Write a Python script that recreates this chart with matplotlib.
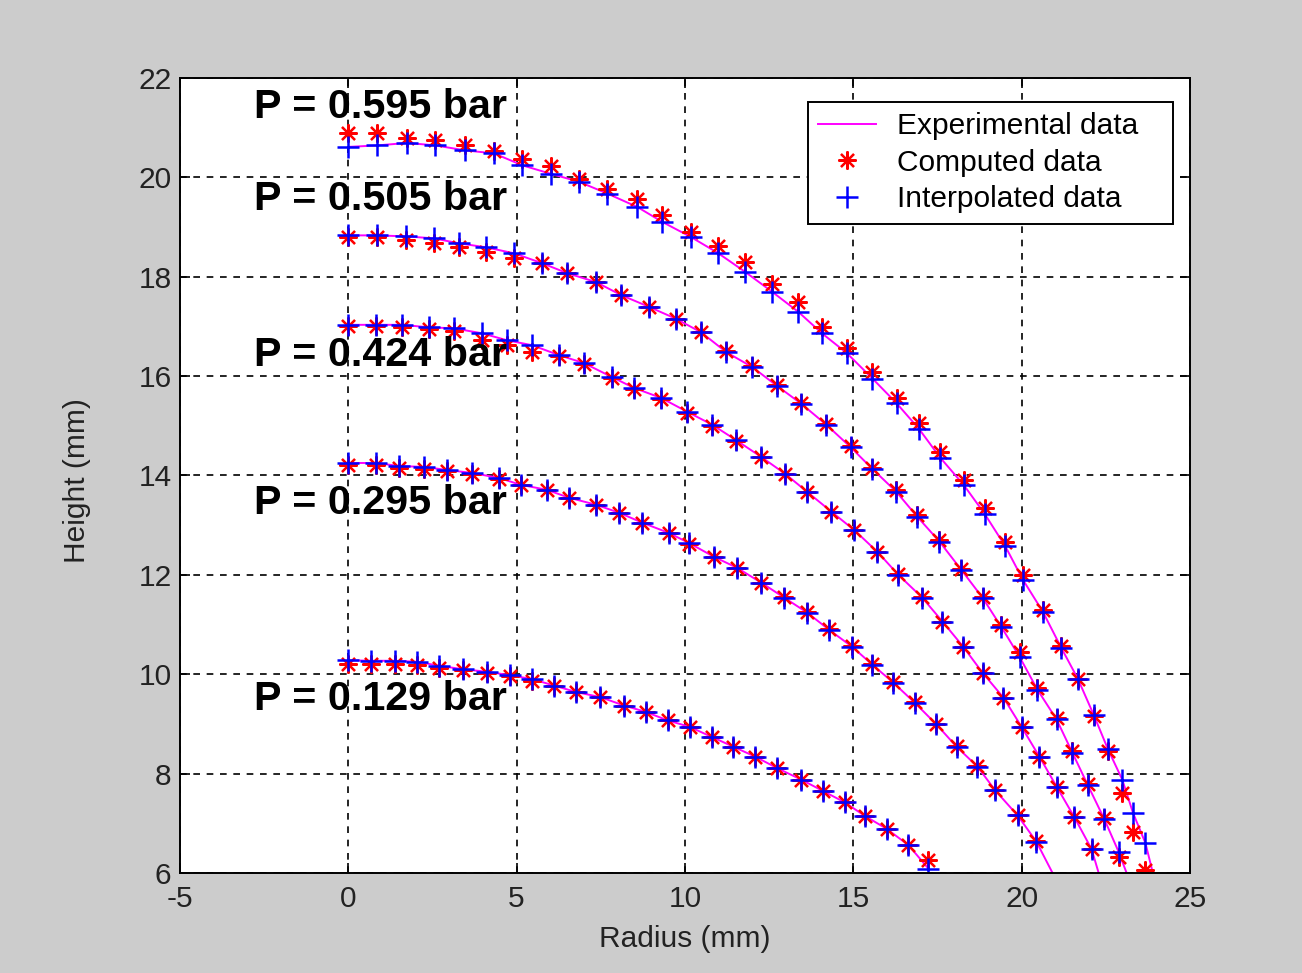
import matplotlib
matplotlib.use('Agg')
import matplotlib.pyplot as plt

# radius (mm), computed heights and interpolated heights for each pressure
r_595 = [0, 0.86, 1.75, 2.59, 3.48, 4.33, 5.17, 6.01, 6.85, 7.7, 8.59, 9.33, 10.17, 10.97, 11.78,
         12.6, 13.37, 14.07, 14.81, 15.57, 16.29, 16.96, 17.58, 18.28, 18.9, 19.52, 20.04, 20.63,
         21.18, 21.67, 22.15, 22.56, 22.99, 23.31, 23.68]
comp_595 = [20.88, 20.89, 20.78, 20.74, 20.64, 20.53, 20.36, 20.22, 19.97, 19.77, 19.57, 19.24, 18.9,
            18.62, 18.29, 17.86, 17.49, 16.99, 16.56, 16.09, 15.55, 15.05, 14.48, 13.91, 13.34, 12.67,
            12.0, 11.3, 10.56, 9.91, 9.15, 8.45, 7.6, 6.83, 6.06]
interp_595 = [20.61, 20.64, 20.69, 20.64, 20.54, 20.48, 20.24, 20.07, 19.91, 19.67, 19.4, 19.1, 18.8,
              18.48, 18.1, 17.69, 17.29, 16.86, 16.46, 15.95, 15.45, 14.93, 14.36, 13.81, 13.23, 12.57,
              11.9, 11.26, 10.53, 9.91, 9.17, 8.5, 7.88, 7.21, 6.6]
end_595 = (23.9, 6.0)

r_505 = [0, 0.85, 1.71, 2.54, 3.29, 4.09, 4.92, 5.76, 6.5, 7.36, 8.1, 8.94, 9.74, 10.48, 11.23, 12.0,
         12.74, 13.46, 14.2, 14.92, 15.57, 16.28, 16.9, 17.56, 18.21, 18.84, 19.4, 19.94, 20.47, 21.04,
         21.51, 21.96, 22.46, 22.88]
comp_505 = [18.79, 18.79, 18.73, 18.67, 18.59, 18.49, 18.37, 18.27, 18.07, 17.89, 17.63, 17.39, 17.15,
            16.88, 16.5, 16.2, 15.82, 15.46, 15.04, 14.6, 14.15, 13.7, 13.2, 12.7, 12.12, 11.56, 10.98,
            10.45, 9.72, 9.12, 8.45, 7.8, 7.1, 6.33]
interp_505 = [18.83, 18.83, 18.81, 18.77, 18.67, 18.59, 18.47, 18.27, 18.07, 17.89, 17.63, 17.39, 17.15,
              16.88, 16.48, 16.18, 15.8, 15.44, 15.02, 14.57, 14.13, 13.67, 13.17, 12.67, 12.1, 11.54,
              10.95, 10.35, 9.69, 9.09, 8.42, 7.78, 7.08, 6.43]
end_505 = (23.12, 6.0)

r_424 = [0, 0.82, 1.59, 2.39, 3.14, 3.97, 4.71, 5.46, 6.26, 7.0, 7.83, 8.49, 9.29, 10.07, 10.81, 11.52,
         12.27, 12.98, 13.63, 14.35, 15.03, 15.72, 16.34, 17.05, 17.65, 18.27, 18.84, 19.46, 20.0, 20.53,
         21.04, 21.57, 22.08]
comp_424 = [17.0, 17.0, 16.98, 16.94, 16.9, 16.72, 16.62, 16.48, 16.4, 16.24, 15.96, 15.74, 15.54, 15.26,
            15.0, 14.7, 14.37, 14.03, 13.67, 13.27, 12.9, 12.46, 12.02, 11.55, 11.06, 10.55, 10.03, 9.53,
            8.94, 8.34, 7.74, 7.12, 6.48]
interp_424 = [17.03, 17.03, 17.03, 16.98, 16.96, 16.86, 16.72, 16.62, 16.42, 16.26, 15.98, 15.76, 15.56,
              15.28, 15.02, 14.71, 14.37, 14.03, 13.67, 13.27, 12.9, 12.46, 12.0, 11.54, 11.06, 10.55,
              10.03, 9.53, 8.94, 8.34, 7.74, 7.12, 6.48]
end_424 = (22.29, 6.0)

r_295 = [0, 0.82, 1.5, 2.25, 2.93, 3.67, 4.47, 5.13, 5.9, 6.56, 7.36, 8.04, 8.73, 9.53, 10.12, 10.87,
         11.55, 12.27, 12.95, 13.63, 14.29, 14.97, 15.57, 16.19, 16.82, 17.47, 18.07, 18.69, 19.22,
         19.88, 20.44]
comp_295 = [14.2, 14.2, 14.15, 14.13, 14.08, 14.03, 13.93, 13.8, 13.7, 13.55, 13.41, 13.25, 13.05, 12.84,
            12.62, 12.36, 12.14, 11.84, 11.55, 11.25, 10.9, 10.56, 10.2, 9.84, 9.45, 9.0, 8.55, 8.15,
            7.67, 7.17, 6.64]
interp_295 = [14.25, 14.25, 14.19, 14.17, 14.11, 14.05, 13.95, 13.81, 13.71, 13.55, 13.41, 13.25, 13.05,
              12.84, 12.64, 12.36, 12.14, 11.84, 11.54, 11.24, 10.89, 10.55, 10.19, 9.83, 9.43, 8.99,
              8.54, 8.14, 7.66, 7.16, 6.63]
end_295 = (20.92, 6.0)

r_129 = [0, 0.69, 1.39, 2.04, 2.7, 3.4, 4.11, 4.8, 5.47, 6.12, 6.77, 7.48, 8.19, 8.84, 9.49, 10.14,
         10.79, 11.44, 12.09, 12.74, 13.45, 14.1, 14.75, 15.34, 15.99, 16.64, 17.23]
comp_129 = [10.2, 10.2, 10.2, 10.19, 10.13, 10.08, 10.02, 9.96, 9.87, 9.77, 9.64, 9.54, 9.37, 9.24, 9.07,
            8.94, 8.74, 8.54, 8.34, 8.11, 7.88, 7.65, 7.42, 7.15, 6.89, 6.56, 6.26]
interp_129 = [10.28, 10.27, 10.27, 10.25, 10.17, 10.1, 10.05, 9.98, 9.9, 9.77, 9.64, 9.54, 9.37, 9.24,
              9.07, 8.94, 8.74, 8.54, 8.34, 8.11, 7.88, 7.65, 7.42, 7.15, 6.89, 6.56, 6.09]
end_129 = None

labels = ['P = 0.595 bar', 'P = 0.505 bar', 'P = 0.424 bar', 'P = 0.295 bar', 'P = 0.129 bar']

curves = [(r_595, comp_595, interp_595, end_595),
          (r_505, comp_505, interp_505, end_505),
          (r_424, comp_424, interp_424, end_424),
          (r_295, comp_295, interp_295, end_295),
          (r_129, comp_129, interp_129, end_129)]

plt.rcParams['font.family'] = ['Liberation Sans', 'DejaVu Sans']
plt.rcParams['axes.unicode_minus'] = False

fig = plt.figure(figsize=(13.02, 9.73), dpi=100, facecolor='#cccccc')
ax = fig.add_axes([0.1382, 0.1028, 0.7757, 0.8172])
ax.set_facecolor('white')

star = (8, 2, 0)
for i, (r, comp, interp, end) in enumerate(curves):
    xs = list(r)
    ys = list(interp)
    if end is not None:
        xs.append(end[0])
        ys.append(end[1])
    ax.plot(xs, ys, color='#ff00ff', lw=1.4, zorder=3,
            label='Experimental data' if i == 0 else None)
for i, (r, comp, interp, end) in enumerate(curves):
    ax.plot(r, comp, ls='none', marker=star, ms=13, mew=1.6, color='red', zorder=4,
            label='Computed data' if i == 0 else None)
for i, (r, comp, interp, end) in enumerate(curves):
    ax.plot(r, interp, ls='none', marker='+', ms=16, mew=1.8, color='blue', zorder=5,
            label='Interpolated data' if i == 0 else None)

label_y = [21.2, 19.35, 16.2, 13.22, 9.28]
for txt, yy in zip(labels, label_y):
    ax.text(-2.81, yy, txt, fontsize=29.7, fontweight='bold', color='black',
            ha='left', va='baseline', zorder=6)

ax.set_xlim(-5, 25)
ax.set_ylim(6, 22)
ax.set_xticks(range(-5, 26, 5))
ax.set_yticks(range(6, 23, 2))
ax.grid(True, color='black', ls=(0, (4, 4)), lw=1.2, zorder=1)
ax.set_axisbelow(True)
for s in ax.spines.values():
    s.set_linewidth(1.4)
    s.set_zorder(7)
ax.tick_params(direction='in', length=7, width=1.2, labelsize=21.5, top=True, right=True,
               colors='black', labelcolor='#222222')
ax.tick_params(axis='x', pad=9)
ax.tick_params(axis='y', pad=6)

ax.set_xlabel('Radius (mm)', fontsize=21.5, color='#222222')
ax.set_ylabel('Height (mm)', fontsize=21.5, color='#222222')
ax.xaxis.set_label_coords(0.5, -0.066)
ax.yaxis.set_label_coords(-0.088, 0.494)

leg = ax.legend(loc='upper left', bbox_to_anchor=(0.6218, 0.815, 0.3614, 0.155), mode='expand',
                fontsize=21.5, fancybox=False,
                framealpha=1, edgecolor='black', borderpad=0.35, labelspacing=0.29,
                handlelength=1.94, handletextpad=0.7, borderaxespad=0)
leg.get_frame().set_linewidth(1.4)
leg.set_zorder(10)

fig.savefig('out.png', dpi=100, facecolor=fig.get_facecolor())
